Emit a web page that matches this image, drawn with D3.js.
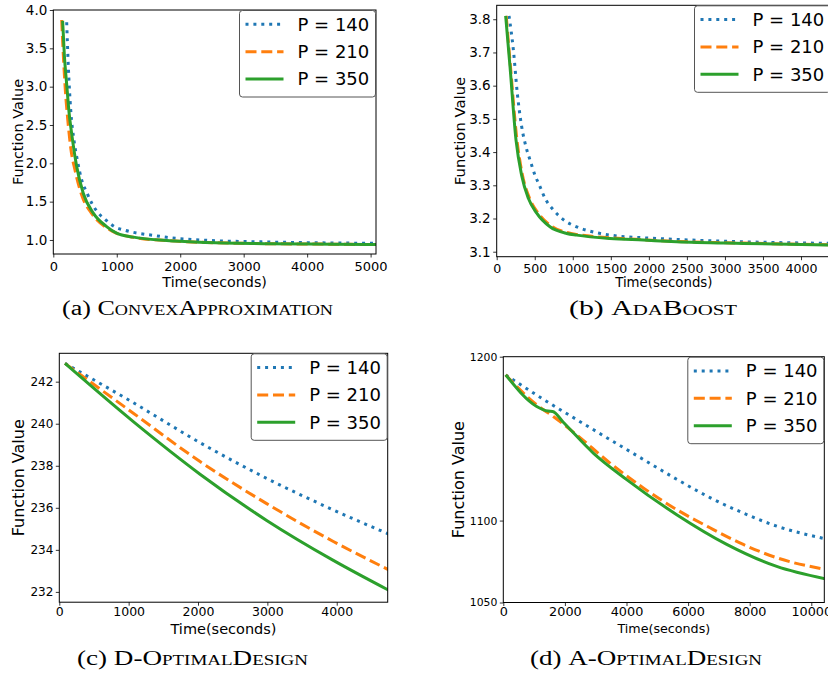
<!DOCTYPE html>
<html>
<head>
<meta charset="utf-8">
<script src="https://cdn.jsdelivr.net/npm/d3@7"></script>
<style>
body { margin: 0; background: #fff; }
.tick text { font-family: "DejaVu Sans", sans-serif; fill: #000; }
.axis-label { font-family: "DejaVu Sans", sans-serif; fill: #000; }
.legend-text { font-family: "DejaVu Sans", sans-serif; font-size: 18px; fill: #000; }
.caption { font-family: "Liberation Serif", serif; fill: #000; }
.caption .sc { font-variant: small-caps; }
</style>
</head>
<body>
<svg width="828" height="673"></svg>
<script>
// ---- data: [time (s), function value] ----
var legendNames = ['P = 140', 'P = 210', 'P = 350'];

var convexP140 = [[211,3.84],[237,3.26],[274,2.70],[326,2.30],[379,2.04],[448,1.78],[527,1.62],[606,1.48],[700,1.36],[815,1.27],[972,1.17],[1114,1.13],[1260,1.10],[1575,1.06],[1786,1.035],[2310,1.00],[3360,0.974],[4410,0.961],[5100,0.957]];
var convexP210 = [[132,3.87],[165,3.30],[190,2.95],[230,2.55],[275,2.20],[345,1.90],[450,1.58],[610,1.34],[820,1.17],[990,1.09],[1260,1.035],[1786,0.992],[2310,0.970],[3360,0.952],[4410,0.945],[5100,0.940]];
var convexP350 = [[147,3.86],[175,3.40],[210,3.04],[250,2.65],[289,2.39],[368,1.96],[472,1.61],[630,1.35],[840,1.175],[998,1.09],[1260,1.037],[1786,0.993],[2310,0.970],[3360,0.952],[4410,0.944],[5100,0.940]];

var adaP140 = [[162,3.81],[219,3.708],[271,3.577],[328,3.477],[385,3.416],[438,3.376],[503,3.331],[569,3.296],[635,3.261],[744,3.226],[898,3.193],[1051,3.175],[1314,3.157],[1489,3.150],[1927,3.142],[2366,3.137],[3241,3.130],[4400,3.125]];
var adaP210 = [[125,3.81],[180,3.66],[262,3.445],[335,3.335],[430,3.262],[540,3.218],[720,3.177],[940,3.157],[1051,3.152],[1489,3.142],[1927,3.136],[2366,3.131],[3241,3.126],[4400,3.121]];
var adaP350 = [[118,3.81],[175,3.657],[254,3.436],[328,3.33],[416,3.261],[526,3.216],[700,3.175],[920,3.155],[1051,3.150],[1489,3.140],[1927,3.135],[2366,3.130],[3241,3.125],[4400,3.120]];

var dOptP140 = [[82,242.87],[1067,241.0],[2029,239.1],[2990,237.4],[3951,235.9],[4750,234.75]];
var dOptP210 = [[82,242.87],[1067,240.5],[2029,238.2],[2990,236.2],[3951,234.4],[4750,233.05]];
var dOptP350 = [[82,242.87],[1067,240.1],[2029,237.6],[2990,235.4],[3951,233.5],[4750,232.08]];

var aOptP140 = [[78,1188.9],[1299,1174.0],[2383,1161.6],[3464,1149.4],[4546,1137.3],[5630,1125.2],[6711,1114.0],[7792,1104.6],[8877,1096.6],[10450,1088.9]];
var aOptP210 = [[78,1188.9],[1084,1170.6],[1624,1163.5],[2383,1152.3],[3464,1135.1],[4546,1119.9],[5630,1106.7],[6711,1095.6],[7792,1085.4],[8877,1077.3],[10450,1070.2]];
var aOptP350 = [[78,1188.9],[1084,1169.6],[1450,1166.8],[1600,1166.6],[1948,1160.0],[2922,1141.2],[4006,1125.0],[5630,1103.6],[7253,1085.5],[8877,1072.0],[10450,1064.5]];

// tick labels
var convexXTicks = [0, 1000, 2000, 3000, 4000, 5000];
var convexYTicks = [1.0, 1.5, 2.0, 2.5, 3.0, 3.5, 4.0];
var adaXTicks = [0, 500, 1000, 1500, 2000, 2500, 3000, 3500, 4000];
var adaYTicks = [3.1, 3.2, 3.3, 3.4, 3.5, 3.6, 3.7, 3.8];
var dOptXTicks = [0, 1000, 2000, 3000, 4000];
var dOptYTicks = [232, 234, 236, 238, 240, 242];
var aOptXTicks = [0, 2000, 4000, 6000, 8000, 10000];
var aOptYTicks = [1050, 1100, 1200];

// ---- styles ----
var seriesStyle = [
    {color: '#1f77b4', dash: '3,4.9'},
    {color: '#ff7f0e', dash: '11,4.8'},
    {color: '#2ca02c', dash: null}
];

var svg = d3.select('svg');
svg.append('rect').attr('width', 828).attr('height', 673).attr('fill', '#fff');

var panels = [
    {id: 'a', lines: [convexP140, convexP210, convexP350],
     box: {l: 53.3, t: 10, r: 376, b: 254},
     xDomain: [0, 5085], yDomain: [0.817, 4.0],
     xTicks: convexXTicks, yTicks: convexYTicks, yFormat: d3.format('.1f'),
     xFont: 13, yFont: 13.5, xPad: 4, xLabelFont: 14.3, xLabelY: 287, yLabelFont: 14.5, yLabelX: 23.3,
     caption: ['(a) ', 'ConvexApproximation'], capX: [62, 333], capY: 315},
    {id: 'b', lines: [adaP140, adaP210, adaP350],
     box: {l: 496.7, t: 5.3, r: 831, b: 256.7},
     xDomain: [0, 4394], yDomain: [3.085, 3.842],
     xTicks: adaXTicks, yTicks: adaYTicks, yFormat: d3.format('.1f'),
     xFont: 12.6, yFont: 13.5, xPad: 4, xLabelFont: 13.3, xLabelY: 286.5, yLabelFont: 14.8, yLabelX: 465,
     caption: ['(b) ', 'AdaBoost'], capX: [569, 737], capY: 315},
    {id: 'c', lines: [dOptP140, dOptP210, dOptP350],
     box: {l: 59.3, t: 353.3, r: 387.7, b: 602.2},
     xDomain: [0, 4735], yDomain: [231.51, 243.35],
     xTicks: dOptXTicks, yTicks: dOptYTicks, yFormat: d3.format('d'),
     xFont: 12.5, yFont: 12, xPad: 1.5, xLabelFont: 14.5, xLabelY: 634, yLabelFont: 16, yLabelX: 24,
     caption: ['(c) ', 'D-OptimalDesign'], capX: [77, 308], capY: 665},
    {id: 'd', lines: [aOptP140, aOptP210, aOptP350],
     box: {l: 503.3, t: 356.7, r: 824.3, b: 602.5},
     xDomain: [0, 10422], yDomain: [1050, 1200],
     xTicks: aOptXTicks, yTicks: aOptYTicks, yFormat: d3.format('d'),
     xFont: 12.8, yFont: 10.8, xPad: 1, xLabelFont: 12.7, xLabelY: 633, yLabelFont: 16, yLabelX: 464,
     caption: ['(d) ', 'A-OptimalDesign'], capX: [530, 762], capY: 665}
];

panels.forEach(function(p) {
    var g = svg.append('g').attr('class', 'panel-' + p.id);
    var w = p.box.r - p.box.l, h = p.box.b - p.box.t;

    var xScale = d3.scaleLinear().domain(p.xDomain).range([p.box.l, p.box.r]);
    var yScale = d3.scaleLinear().domain(p.yDomain).range([p.box.b, p.box.t]);

    g.append('clipPath').attr('id', 'clip-' + p.id)
        .append('rect')
        .attr('x', p.box.l).attr('y', p.box.t)
        .attr('width', w).attr('height', h);

    var line = d3.line()
        .x(function(d) { return xScale(d[0]); })
        .y(function(d) { return yScale(d[1]); })
        .curve(d3.curveMonotoneX);

    g.selectAll('.series')
        .data(p.lines)
        .enter()
        .append('path')
        .attr('class', 'series')
        .attr('clip-path', 'url(#clip-' + p.id + ')')
        .attr('d', line)
        .attr('fill', 'none')
        .attr('stroke', function(d, i) { return seriesStyle[i].color; })
        .attr('stroke-width', 3)
        .attr('stroke-dasharray', function(d, i) { return seriesStyle[i].dash; });

    // axes
    var xAxis = g.append('g')
        .attr('transform', 'translate(0,' + p.box.b + ')')
        .call(d3.axisBottom(xScale).tickValues(p.xTicks).tickFormat(d3.format('d'))
            .tickSizeInner(3.5).tickSizeOuter(0).tickPadding(p.xPad));
    xAxis.select('.domain').remove();
    xAxis.selectAll('text').style('font-size', p.xFont + 'px');

    var yAxis = g.append('g')
        .attr('transform', 'translate(' + p.box.l + ',0)')
        .call(d3.axisLeft(yScale).tickValues(p.yTicks).tickFormat(p.yFormat)
            .tickSizeInner(3.5).tickSizeOuter(0).tickPadding(2.5));
    yAxis.select('.domain').remove();
    yAxis.selectAll('text').style('font-size', p.yFont + 'px');
    g.selectAll('.tick line').attr('stroke', '#000').attr('stroke-width', 0.8);

    // frame
    g.append('rect')
        .attr('x', p.box.l).attr('y', p.box.t)
        .attr('width', w).attr('height', h)
        .attr('fill', 'none').attr('stroke', '#000').attr('stroke-width', 1);

    // legend
    var lg = g.append('g').attr('transform', 'translate(' + (p.box.r - 137) + ',' + p.box.t + ')');
    lg.append('rect')
        .attr('x', 0.5).attr('y', 0.5)
        .attr('width', 136).attr('height', 86.5)
        .attr('rx', 3)
        .attr('fill', '#fff').attr('fill-opacity', 0.85)
        .attr('stroke', '#555').attr('stroke-width', 1);
    var rows = lg.selectAll('.legend-row')
        .data(legendNames)
        .enter()
        .append('g')
        .attr('class', 'legend-row')
        .attr('transform', function(d, i) { return 'translate(0,' + (14.3 + i * 27.35) + ')'; });
    rows.append('line')
        .attr('x1', 6.5).attr('x2', 44.5)
        .attr('stroke', function(d, i) { return seriesStyle[i].color; })
        .attr('stroke-width', 3)
        .attr('stroke-dasharray', function(d, i) { return seriesStyle[i].dash; });
    rows.append('text')
        .attr('class', 'legend-text')
        .attr('x', 58.5).attr('dy', '0.36em')
        .text(function(d) { return d; });

    // axis titles
    g.append('text')
        .attr('class', 'axis-label')
        .attr('x', (p.box.l + p.box.r) / 2).attr('y', p.xLabelY)
        .attr('text-anchor', 'middle')
        .style('font-size', p.xLabelFont + 'px')
        .text('Time(seconds)');
    g.append('text')
        .attr('class', 'axis-label')
        .attr('transform', 'translate(' + p.yLabelX + ',' + ((p.box.t + p.box.b) / 2) + ') rotate(-90)')
        .attr('text-anchor', 'middle')
        .style('font-size', p.yLabelFont + 'px')
        .text('Function Value');

    // caption: "(x)" upright, name in small caps
    var cap = g.append('text')
        .attr('class', 'caption')
        .attr('x', p.capX[0]).attr('y', p.capY)
        .attr('textLength', p.capX[1] - p.capX[0])
        .attr('lengthAdjust', 'spacingAndGlyphs')
        .style('font-size', '20px');
    cap.append('tspan').text(p.caption[0]);
    cap.append('tspan').attr('class', 'sc').text(p.caption[1]);
});
</script>
</body>
</html>
